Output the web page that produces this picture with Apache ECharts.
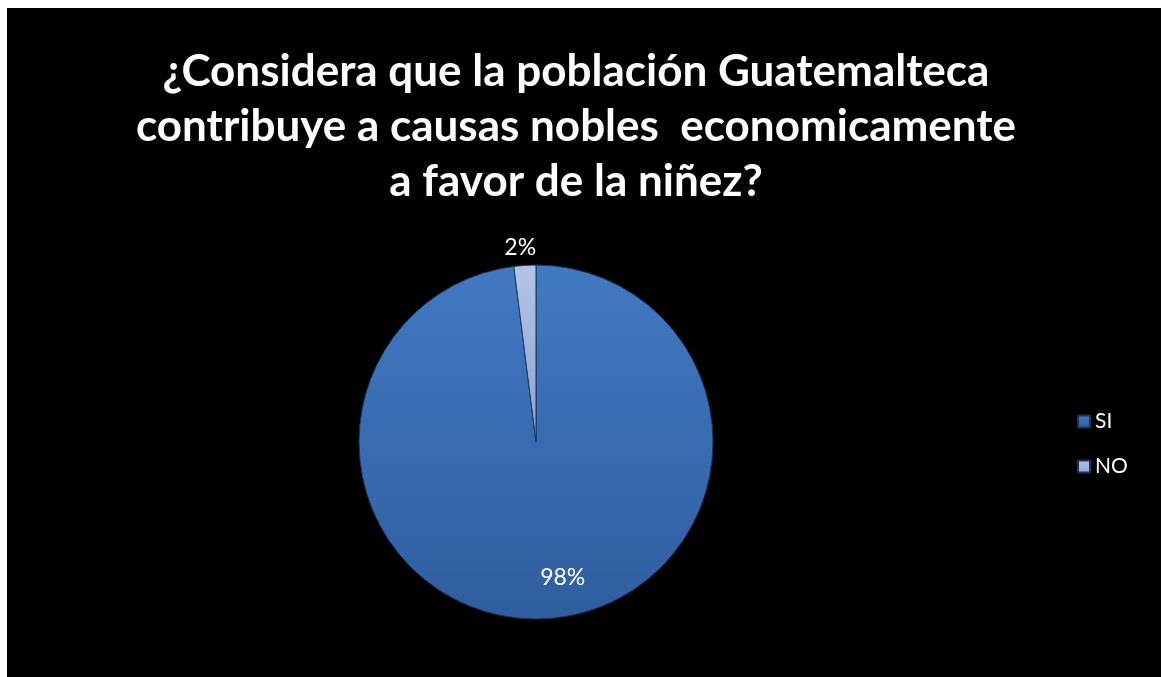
<!DOCTYPE html>
<html>
<head>
<meta charset="utf-8">
<script src="https://cdn.jsdelivr.net/npm/echarts@6/dist/echarts.min.js"></script>
<style>
  html, body { margin: 0; padding: 0; background: #ffffff; width: 1161px; height: 677px; overflow: hidden; }
  #chart { position: absolute; left: 7px; top: 8px; width: 1154px; height: 669px; background: #000000; }
</style>
</head>
<body>
<div id="chart"></div>
<script>
const titleText = "¿Considera que la población Guatemalteca\ncontribuye a causas nobles  economicamente\na favor de la niñez?";
const categories = ["SI", "NO"];
const values = [98, 2];

const chart = echarts.init(document.getElementById('chart'), null, { renderer: 'canvas' });

const siColor = {
  type: 'linear', x: 0, y: 0, x2: 0, y2: 1,
  colorStops: [{ offset: 0, color: '#4179c2' }, { offset: 1, color: '#2f5e9f' }]
};
const noColor = {
  type: 'linear', x: 0, y: 0, x2: 0, y2: 1,
  colorStops: [{ offset: 0, color: '#b4c4e6' }, { offset: 1, color: '#8ca2cf' }]
};
const colors = [siColor, noColor];
const labelOffsets = [[21, 44], [-10, -103]];

chart.setOption({
  backgroundColor: '#000000',
  animation: false,
  title: {
    text: titleText,
    left: 564,
    textAlign: 'center',
    top: 31,
    textStyle: {
      color: '#ffffff',
      fontFamily: 'Lato',
      fontWeight: 'bold',
      fontSize: 44,
      lineHeight: 55
    }
  },
  legend: {
    orient: 'vertical',
    left: 1065,
    top: 398,
    icon: 'rect',
    itemWidth: 12,
    itemHeight: 12,
    itemGap: 24,
    data: categories,
    textStyle: { color: '#ffffff', fontFamily: 'Lato', fontSize: 21 }
  },
  series: [{
    type: 'pie',
    center: [529, 434],
    radius: [0, 177],
    startAngle: 90,
    clockwise: true,
    label: {
      show: true,
      position: 'inside',
      color: '#ffffff',
      fontFamily: 'Lato',
      fontSize: 23,
      formatter: p => p.value + '%'
    },
    labelLine: { show: false },
    itemStyle: {
      borderColor: '#1b355c',
      borderWidth: 1
    },
    data: categories.map((c, i) => ({
      name: c,
      value: values[i],
      itemStyle: { color: colors[i] },
      label: { offset: labelOffsets[i] }
    }))
  }]
});
</script>
</body>
</html>
